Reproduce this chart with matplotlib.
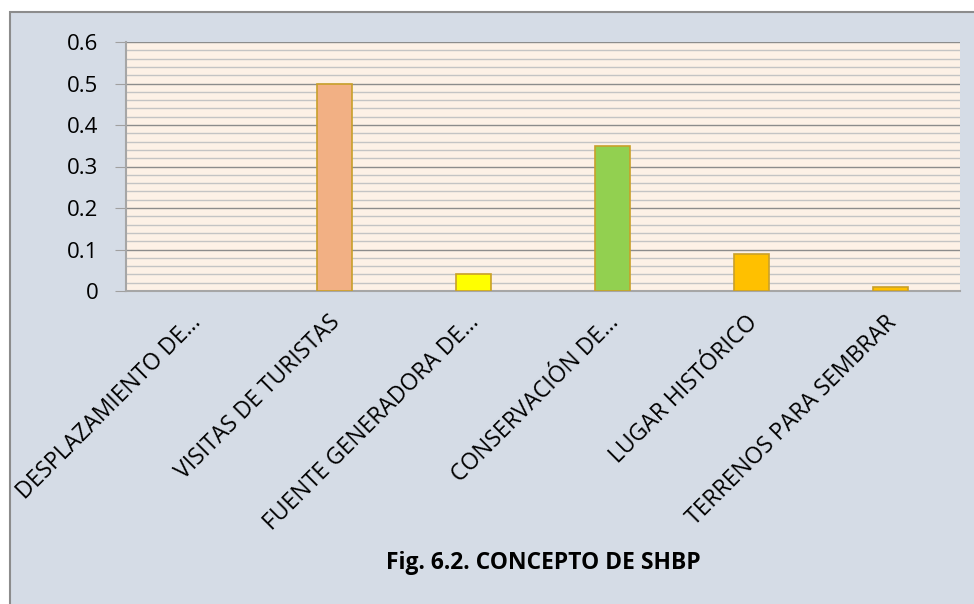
import matplotlib
matplotlib.use("Agg")
import matplotlib.pyplot as plt
from matplotlib.patches import Rectangle
import matplotlib.transforms as mtransforms

categories = ["DESPLAZAMIENTO DE…", "VISITAS DE TURISTAS", "FUENTE GENERADORA DE…",
              "CONSERVACIÓN DE…", "LUGAR HISTÓRICO", "TERRENOS PARA SEMBRAR"]
values = [0.0, 0.5, 0.04, 0.35, 0.09, 0.01]
bar_colors = ["#F2B084", "#F2B084", "#FFFF00", "#92D050", "#FFC000", "#FFC000"]
yticks = [0, 0.1, 0.2, 0.3, 0.4, 0.5, 0.6]
ytick_labels = ["0", "0.1", "0.2", "0.3", "0.4", "0.5", "0.6"]
title = "Fig. 6.2. CONCEPTO DE SHBP"

plt.rcParams['font.family'] = ['Open Sans', 'DejaVu Sans']

W, H = 974, 604
fig = plt.figure(figsize=(W / 100, H / 100), dpi=100, facecolor="white")
bg = Rectangle((9.5 / W, -0.01), 1.0, 1 - 12.5 / H + 0.01, transform=fig.transFigure,
               facecolor="#D5DCE6", edgecolor="#8C8C8C", linewidth=1.5, zorder=-10)
fig.add_artist(bg)

ax = fig.add_axes([126 / W, 1 - 291 / H, (960 - 126) / W, (291 - 42) / H])
ax.set_zorder(1)
ax.set_facecolor("#FDF1E6")
x = list(range(len(categories)))
bars = ax.bar(x, values, width=0.25, color=bar_colors, edgecolor="#C9A02A", linewidth=1.2, zorder=3)
for b, v in zip(bars, values):
    if v == 0:
        b.set_edgecolor("none")
ax.set_xlim(-0.5, len(categories) - 0.5)
ax.set_ylim(0, 0.6)

ax.set_yticks(yticks)
ax.set_yticklabels(ytick_labels, fontsize=16)
ax.set_yticks([i * 0.02 for i in range(31)], minor=True)
ax.yaxis.grid(True, which="major", color="#8C8C8C", linewidth=1.0, zorder=1)
ax.yaxis.grid(True, which="minor", color="#C4C4C4", linewidth=1.0, zorder=1)
ax.set_axisbelow(True)
ax.tick_params(axis="y", which="major", length=8, color="#A0A0A0", pad=12)
ax.tick_params(axis="y", which="minor", length=0)
ax.tick_params(axis="x", length=0)

for s in ["top", "right"]:
    ax.spines[s].set_visible(False)
for s in ["left", "bottom"]:
    ax.spines[s].set_color("#A6A6A6")
    ax.spines[s].set_linewidth(1.5)

ax.set_xticks(x)
ax.set_xticklabels([])
offset = mtransforms.ScaledTranslation(2.5 / 100, -28 / 100, fig.dpi_scale_trans)
for xi, lab in zip(x, categories):
    ax.text(xi, 0, lab, rotation=45, rotation_mode="anchor", ha="right", va="center",
            fontsize=16.5, transform=ax.get_xaxis_transform() + offset)

fig.text(543 / W, 1 - 563 / H, title, ha="center", va="center", fontsize=16.5, fontweight="bold")

fig.savefig("out.png", dpi=100)
